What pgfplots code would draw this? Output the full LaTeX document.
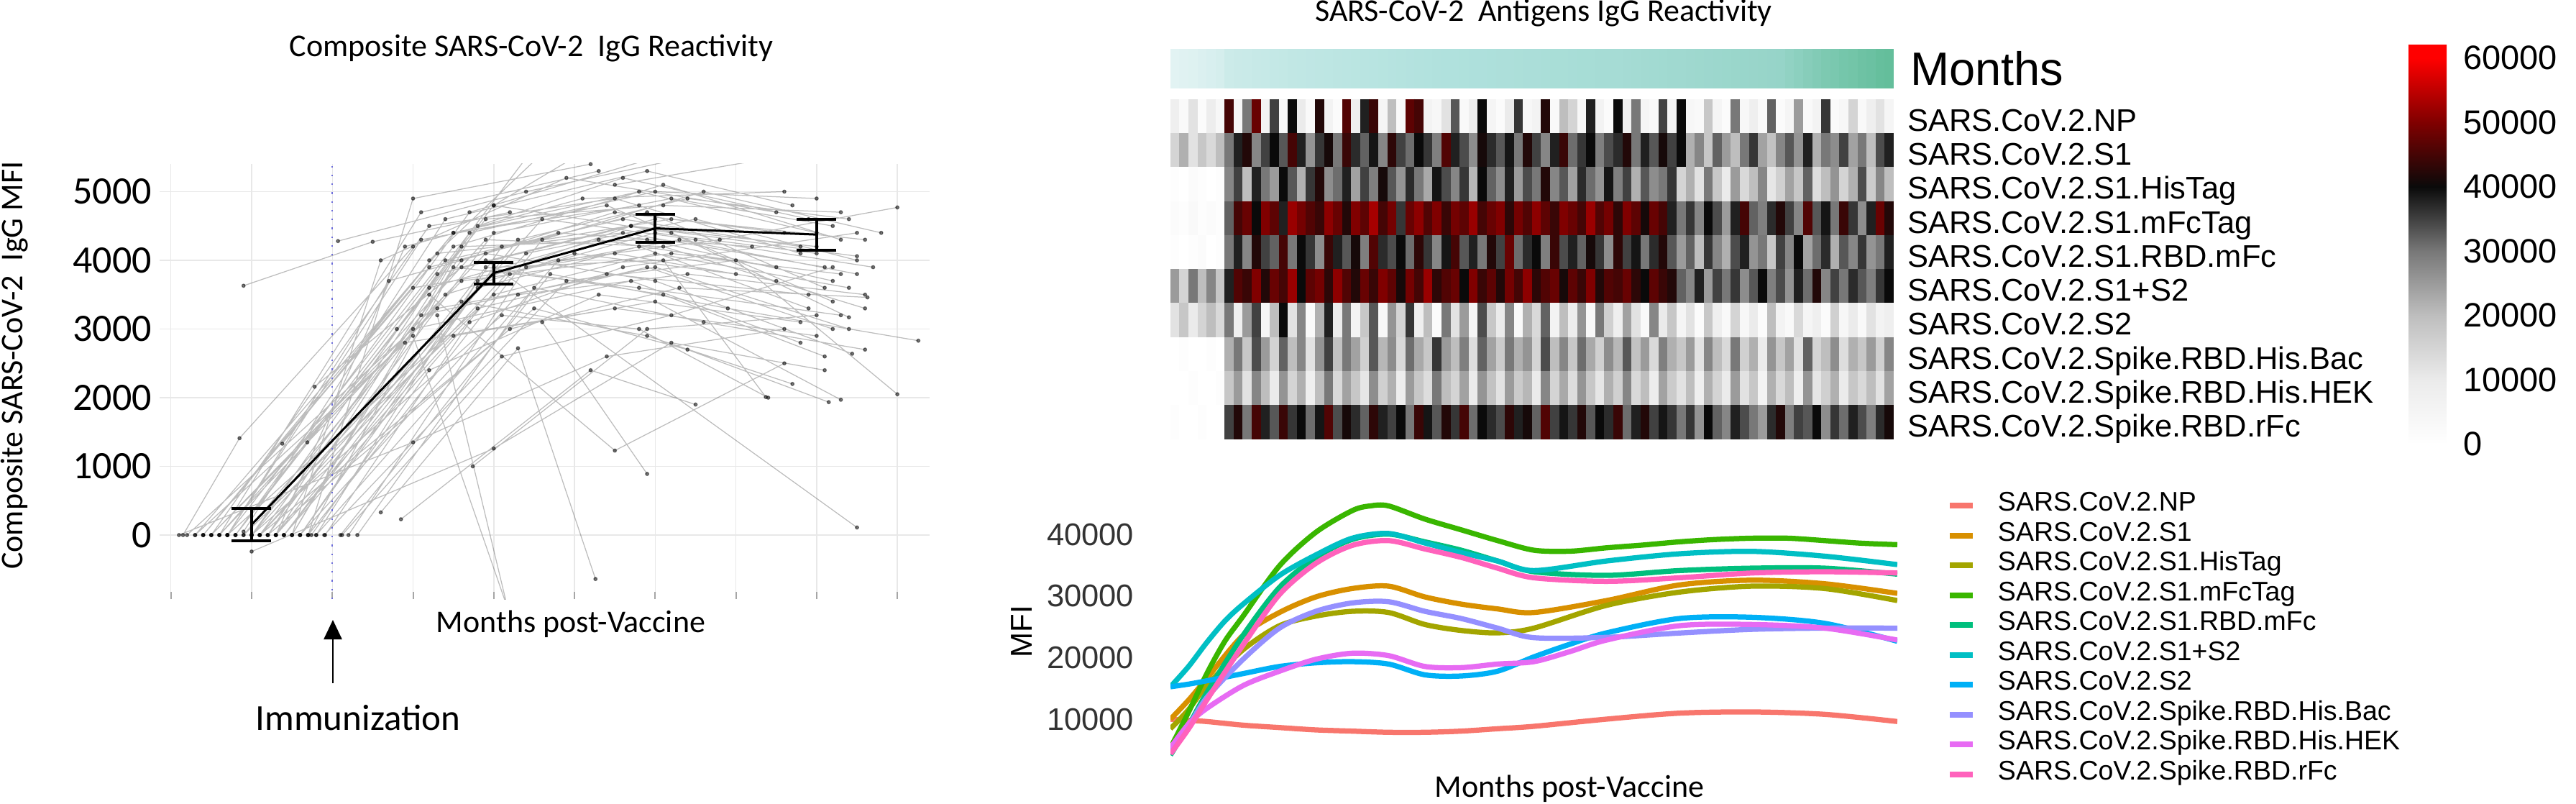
\documentclass[border=0pt]{standalone}
\usepackage{fontspec}
\setmainfont{Carlito}
\newfontfamily\arialf{Liberation Sans}
\usepackage{pgfplots}
\usepackage{pgfplotstable}
\pgfplotsset{compat=1.18}
\usetikzlibrary{arrows.meta}

\definecolor{cNP}{HTML}{F8766D}
\definecolor{cS1}{HTML}{D89000}
\definecolor{cHis}{HTML}{A3A500}
\definecolor{cmFc}{HTML}{39B600}
\definecolor{cRBD}{HTML}{00BF7D}
\definecolor{cS12}{HTML}{00BFC4}
\definecolor{cS2}{HTML}{00B0F6}
\definecolor{cBac}{HTML}{9590FF}
\definecolor{cHEK}{HTML}{E76BF3}
\definecolor{crFc}{HTML}{FF62BC}
\definecolor{blueDot}{RGB}{110,110,220}

\pgfplotsset{colormap={mon}{rgb255(0cm)=(226,243,243) rgb255(5cm)=(176,225,221) rgb255(8cm)=(150,212,200) rgb255(10cm)=(100,190,155)}}
% positions = value (thousands) + 0.7, so that the map spans -0.7 .. 62.2
\pgfplotsset{colormap={hm}{rgb255(0cm)=(255,255,255) rgb255(0.7cm)=(255,255,255) rgb255(10.7cm)=(235,235,235) rgb255(20.7cm)=(190,190,190) rgb255(30.7cm)=(120,120,120) rgb255(40.7cm)=(10,10,10) rgb255(50.7cm)=(128,0,0) rgb255(60.7cm)=(255,0,0) rgb255(62.9cm)=(255,0,0)}}

% heatmap data (values in thousands of MFI), one row per sample
\pgfplotstableread{
mon NP S1 His mFc RBD S12 S2 Bac HEK rFc
0.00 8 15 1 2 1 25 12 0 0 1
0.02 3 22 0 1 0 15 18 1 0 0
0.04 12 12 2 3 1 30 10 0 1 0
0.07 2 18 1 1 2 20 15 0 0 1
0.10 9 14 0 2 0 28 20 1 0 0
0.13 4 20 1 1 1 18 14 0 1 0
0.22 45 30 28 32 30 38 30 22 18 35
0.24 5 38 35 45 38 46 8 30 25 42
0.25 30 42 20 48 28 44 25 18 12 30
0.27 48 28 38 40 42 50 35 34 28 45
0.28 6 35 30 50 35 42 5 25 20 38
0.30 35 40 25 47 32 48 20 15 10 33
0.31 4 33 40 38 45 45 40 32 26 44
0.33 40 45 33 52 30 52 12 20 15 36
0.34 10 38 22 49 40 40 28 28 22 40
0.35 3 26 36 46 36 47 3 12 8 31
0.36 42 36 42 44 27 49 22 26 20 39
0.37 6 41 27 51 44 43 38 35 30 46
0.38 2 30 31 48 38 51 10 19 14 34
0.39 46 44 38 42 33 46 30 30 24 41
0.40 8 37 24 50 41 42 6 24 18 37
0.41 38 32 35 47 29 48 18 16 11 32
0.42 44 39 29 53 46 44 33 33 27 43
0.43 5 28 41 45 37 50 4 21 16 38
0.44 20 43 33 49 34 47 26 27 22 35
0.45 3 35 26 36 40 41 15 14 9 40
0.46 47 31 37 48 31 49 36 31 25 30
0.47 45 40 30 51 43 45 8 23 18 44
0.48 6 36 23 46 36 52 20 18 13 39
0.49 4 29 39 50 28 43 2 36 30 33
0.50 12 46 34 44 39 46 30 25 20 42
0.50 33 38 28 49 45 48 12 20 15 36
0.51 3 34 36 47 33 40 25 29 24 45
0.52 8 27 21 52 38 50 5 13 10 31
0.52 40 41 40 45 30 44 34 32 26 40
0.53 5 37 32 48 42 47 18 24 19 37
0.54 2 33 27 50 35 42 10 17 12 34
0.54 10 39 38 43 48 49 28 30 25 43
0.55 36 30 25 49 31 45 3 22 17 38
0.56 4 42 34 46 37 51 22 26 21 41
0.56 6 35 30 51 40 43 14 15 10 32
0.57 42 28 42 47 29 46 32 34 28 46
0.58 3 38 28 44 44 48 6 20 15 35
0.58 20 44 33 50 34 41 20 28 23 39
0.59 15 31 24 48 38 47 9 18 13 36
0.60 4 36 37 45 32 44 26 31 26 42
0.60 38 40 31 52 41 50 4 23 18 33
0.61 6 29 26 46 36 42 30 16 11 40
0.62 2 34 39 49 27 46 16 27 22 37
0.62 40 37 29 43 43 45 8 21 16 44
0.63 8 42 35 50 35 48 24 33 28 31
0.64 30 30 22 47 39 43 12 19 14 38
0.65 5 38 33 41 30 40 3 25 20 42
0.66 3 33 27 48 37 47 28 14 9 35
0.67 35 41 30 45 42 44 10 29 24 39
0.68 6 35 36 38 33 42 18 22 17 36
0.69 40 40 15 30 25 32 5 18 12 30
0.70 4 22 22 36 32 28 12 25 20 36
0.71 3 28 12 28 20 38 2 12 8 26
0.72 18 18 30 40 36 25 18 28 22 40
0.73 5 32 18 34 28 35 8 20 15 32
0.74 2 25 10 25 22 30 3 14 10 28
0.75 30 20 25 38 34 36 15 30 25 38
0.76 4 30 14 45 38 27 4 16 12 34
0.77 8 36 20 32 26 33 10 22 18 30
0.78 3 24 28 29 30 40 2 10 6 25
0.79 32 19 11 37 18 29 20 26 22 37
0.80 2 28 16 42 35 34 6 18 14 42
0.82 5 33 24 35 28 26 3 24 20 29
0.84 25 26 18 28 40 38 14 12 8 35
0.86 3 38 32 46 24 31 5 32 26 33
0.88 6 22 13 33 31 42 8 15 11 40
0.90 36 30 20 39 37 28 2 20 16 27
0.91 2 27 26 30 22 35 16 27 22 36
0.93 4 35 15 44 33 30 4 13 10 31
0.94 15 24 22 36 28 37 10 22 18 38
0.96 3 30 34 27 36 33 3 18 14 34
0.97 8 20 17 38 26 29 12 25 20 29
0.99 12 34 28 48 30 36 6 16 12 37
1.00 5 38 20 42 38 40 8 28 24 41
}\hm

% individual subject trajectories (months, composite MFI); nan separates subjects
\pgfplotstableread{
x y
-1.6 0
1.2 3900
3.9 4700
6.1 3600
nan nan
-1.3 0
1.5 4200
4.1 5100
6.3 4300
nan nan
-1.0 0
1.8 3600
3.8 4200
5.9 3300
nan nan
-0.8 0
2.0 4400
4.2 4900
6.2 4500
nan nan
-1.5 0
1.3 3300
4.0 3900
6.4 3000
nan nan
-1.2 0
1.7 4700
4.3 5600
nan nan
-0.6 0
2.2 3800
4.0 4400
6.0 4100
nan nan
-1.8 0
1.0 3000
3.7 3700
5.8 2800
nan nan
-0.9 0
2.4 4100
4.5 4600
6.5 4000
nan nan
-0.4 0
2.3 3500
4.4 3800
6.6 3500
nan nan
-1.1 50
1.4 4600
3.9 5300
5.7 4800
nan nan
-0.7 0
1.9 3900
4.1 3500
6.1 2600
nan nan
-1.4 0
1.6 3700
4.2 4100
6.3 3800
nan nan
-0.3 0
2.6 4300
4.6 5000
6.8 4400
nan nan
-1.0 0
2.1 3200
3.8 3000
5.4 2000
nan nan
-0.5 0
1.8 4500
3.6 5200
5.9 4600
nan nan
-1.7 0
0.9 2800
3.5 3300
6.0 2900
nan nan
-0.2 0
2.8 4000
4.8 4300
7.0 4770
nan nan
-1.3 0
1.1 4300
3.4 4800
6.2 3400
nan nan
-0.8 0
2.5 3300
4.4 2700
6.15 1935
nan nan
-0.1 0
2.9 3700
5.0 4000
7.0 2050
nan nan
-1.2 0
2.0 4800
4.2 4400
6.4 3170
nan nan
-0.6 0
1.6 3400
3.9 2900
5.7 2200
nan nan
-1.5 0
1.9 4100
4.0 3700
6.44 2640
nan nan
-0.9 0
2.2 3000
4.3 3600
6.63 3460
nan nan
0.1 0
2.7 3800
4.9 3300
7.26 2830
nan nan
-1.0 0
1.3 3800
3.7 4500
6.5 4060
nan nan
-0.4 0
2.0 3900
4.1 4000
5.37 2010
nan nan
-0.7 0
1.5 2900
4.0 3400
6.3 1970
nan nan
-1.6 0
1.0 3600
3.5 4100
5.5 3700
nan nan
-1.1 3630
0.5 4270
2.2 4700
nan nan
-1.85 0
-1.15 1410
1.0 4200
nan nan
-0.22 2160
1.6 3900
4.0 4600
nan nan
0.07 4280
2.4 5000
4.4 5500
nan nan
0.6 330
2.3 2720
3.26 -640
nan nan
0.85 230
3.2 2400
4.5 1900
nan nan
1.74 1000
3.9 3000
6.0 3200
nan nan
-1.0 -240
2.0 1260
4.2 2800
6.1 2400
nan nan
1.2 3500
3.5 1230
5.6 2500
nan nan
2.6 3100
3.9 890
nan nan
1.9 4000
6.5 110
nan nan
1.0 2900
2.3 -1500
nan nan
1.3 3200
2.2 -1200
nan nan
0.8 3000
2.6 5800
nan nan
1.2 4000
3.0 6000
nan nan
2.0 4800
4.0 6200
nan nan
3.5 5100
6.0 5600
nan nan
-0.62 1330
1.5 4400
3.8 5000
6.0 4400
nan nan
-0.31 1350
1.9 4600
4.1 4800
6.3 4700
nan nan
-1.9 0
1.0 1350
3.4 2600
5.6 3000
nan nan
0.31 0
2.5 3600
4.6 3100
6.6 2700
nan nan
0.12 0
2.1 2600
4.2 3200
6.2 3900
nan nan
-0.09 0
1.7 3100
3.6 3900
6.5 4400
nan nan
-0.26 0
1.2 2400
3.3 3500
5.8 3100
nan nan
-1.3 0
0.7 3700
2.8 4400
5.2 4200
nan nan
-0.5 0
0.6 4000
2.9 5200
5.5 4700
nan nan
-0.7 0
0.9 4200
3.1 4900
5.6 5000
nan nan
-1.4 0
1.1 4700
3.3 5300
nan nan
-1.1 0
1.4 3500
3.0 4100
5.0 3800
nan nan
-0.3 0
1.0 4900
3.2 5400
nan nan
-1.2 0
1.4 4000
3.6 4600
5.8 4200
nan nan
-0.8 0
1.2 3600
3.3 4300
5.5 3900
nan nan
-1.6 0
1.5 4400
3.8 4800
nan nan
-0.5 0
1.6 4200
3.9 4300
6.2 3700
nan nan
-1.0 0
1.1 3200
3.4 3800
5.9 3500
nan nan
-0.2 0
1.8 3700
3.7 4500
6.0 4200
nan nan
-1.4 0
1.9 4300
4.1 4200
6.6 3300
nan nan
-0.9 0
1.6 4000
3.5 4700
5.6 4400
nan nan
-0.6 0
2.3 4300
4.4 4900
6.4 4600
nan nan
-1.7 0
1.3 4100
3.6 4400
6.1 3900
nan nan
-0.3 0
1.5 3900
3.8 3600
6.3 3200
nan nan
-1.1 0
2.0 3500
4.0 4100
6.4 3600
nan nan
-0.7 0
1.7 4400
4.0 5000
6.0 4900
nan nan
0.2 0
2.4 3900
4.3 4300
6.5 3800
nan nan
-1.5 0
1.2 4500
3.5 4900
5.8 4100
nan nan
-0.4 0
2.1 4200
4.2 4600
6.6 4300
nan nan
-1.3 0
1.8 3300
3.9 3900
6.2 3000
nan nan
-0.9 0
2.6 4600
4.5 4300
6.7 3900
}\subj

\pgfplotsset{hmrow/.style={scatter, only marks, mark=|, mark size=4.8pt,
  point meta=explicit, scatter/use mapped color={draw=mapped color, fill=mapped color},
  mark options={line width=2.6pt}}}

\begin{document}
\begin{tikzpicture}
\path[use as bounding box] (0pt,0pt) rectangle (716.6pt,223.4pt);

% ---------------- left panel ----------------
\begin{axis}[
  at={(44.4pt,56.8pt)}, anchor=south west,
  scale only axis, width=214.2pt, height=121pt,
  xmin=-2.14, xmax=7.4, ymin=-932, ymax=5403,
  axis line style={draw=none},
  xtick={-2,...,7}, xticklabels={},
  ytick={0,1000,...,5000},
  grid=major, grid style={color=black!9, line width=0.3pt},
  xtick style={color=black!35, line width=0.4pt},
  ytick style={draw=none},
  major tick length=2pt,
  tick pos=left,
  /pgf/number format/assume math mode=true,
  /pgf/number format/1000 sep={},
  scaled ticks=false,
  yticklabel style={font=\fontsize{10.8}{12}\selectfont, inner sep=0pt, xshift=-2pt},
  title={Composite SARS-CoV-2\ \ IgG Reactivity},
  title style={at={(0.4827,1.2165)}, anchor=center, font=\fontsize{8.8}{10}\selectfont},
  xlabel={Months post-Vaccine},
  xlabel style={at={(0.534,-0.0579)}, anchor=center, font=\fontsize{8.8}{10}\selectfont},
  ylabel={Composite SARS-CoV-2\ \ IgG MFI},
  ylabel style={at={(-0.1886,0.537)}, anchor=center, font=\fontsize{8.8}{10}\selectfont},
  unbounded coords=jump,
]
\addplot[black, opacity=0.26, line width=0.25pt, mark=*, mark size=0.45pt,
  mark options={draw=none, fill=black, opacity=0.5}] table {\subj};
\addplot[blueDot, dotted, line width=0.45pt] coordinates {(0,-932) (0,5403)};
\addplot[black, line width=0.6pt, mark=none,
  error bars/.cd, y dir=both, y explicit,
  error bar style={line width=0.8pt, black},
  error mark options={rotate=90, mark size=5.5pt, line width=0.8pt, black}]
  coordinates {(-1,152) +- (0,236) (2,3815) +- (0,158) (4,4466) +- (0,204) (6,4375) +- (0,224)};
\end{axis}
\draw[line width=0.5pt, -{Triangle[width=5pt,length=5.4pt]}] (92.6pt,33.4pt) -- (92.6pt,51pt);
\node[font=\fontsize{10.2}{12}\selectfont] at (99.6pt,23.8pt) {Immunization};

% ---------------- heatmap title / months bar ----------------
\node[font=\fontsize{8.8}{10}\selectfont] at (429.4pt,219.8pt) {SARS-CoV-2\ \ Antigens IgG Reactivity};

\begin{axis}[at={(325.6pt,198.8pt)}, anchor=south west, scale only axis,
  width=201.2pt, height=11pt, xmin=0.5, xmax=80.5, ymin=0, ymax=1,
  axis line style={draw=none}, ticks=none,
  colormap name=mon, point meta min=0, point meta max=1]
\addplot[scatter, only marks, mark=|, mark size=5.5pt, point meta=explicit,
  scatter/use mapped color={draw=mapped color, fill=mapped color},
  mark options={line width=2.6pt}]
  table[x expr=\coordindex+1, y expr=0.5, meta=mon] {\hm};
\end{axis}
\node[font=\arialf\fontsize{13}{15}\selectfont, anchor=west, inner sep=0pt] at (531.2pt,204.4pt) {Months};

% ---------------- heatmap ----------------
\begin{axis}[at={(325.6pt,101.2pt)}, anchor=south west, scale only axis,
  width=201.2pt, height=94.6pt,
  xmin=0.5, xmax=80.5, ymin=0.5, ymax=10.5, y dir=reverse,
  axis line style={draw=none}, xtick=\empty,
  ytick={1,...,10},
  yticklabels={SARS.CoV.2.NP, SARS.CoV.2.S1, SARS.CoV.2.S1.HisTag, SARS.CoV.2.S1.mFcTag,
    SARS.CoV.2.S1.RBD.mFc, SARS.CoV.2.S1+S2, SARS.CoV.2.S2, SARS.CoV.2.Spike.RBD.His.Bac,
    SARS.CoV.2.Spike.RBD.His.HEK, SARS.CoV.2.Spike.RBD.rFc},
  yticklabel pos=right, ytick style={draw=none},
  yticklabel style={font=\arialf\fontsize{8.7}{10}\selectfont, anchor=base west,
    inner sep=0pt, xshift=3.6pt, yshift=-4.1pt},
  colormap name=hm, point meta min=-0.7, point meta max=62.2,
  colorbar,
  colorbar style={
    at={(parent axis.south west)}, anchor=north west,
    xshift=335.9pt, yshift=110pt,
    width=10.6pt, height=112.6pt,
    ytick={0,10,...,60}, yticklabels={0,10000,20000,30000,40000,50000,60000},
    yticklabel style={font=\arialf\fontsize{9.4}{10}\selectfont, inner sep=0pt, xshift=4.4pt},
    major tick length=0pt, axis line style={draw=none}, ytick style={draw=none}},
]
\addplot[hmrow] table[x expr=\coordindex+1, y expr=1, meta=NP] {\hm};
\addplot[hmrow] table[x expr=\coordindex+1, y expr=2, meta=S1] {\hm};
\addplot[hmrow] table[x expr=\coordindex+1, y expr=3, meta=His] {\hm};
\addplot[hmrow] table[x expr=\coordindex+1, y expr=4, meta=mFc] {\hm};
\addplot[hmrow] table[x expr=\coordindex+1, y expr=5, meta=RBD] {\hm};
\addplot[hmrow] table[x expr=\coordindex+1, y expr=6, meta=S12] {\hm};
\addplot[hmrow] table[x expr=\coordindex+1, y expr=7, meta=S2] {\hm};
\addplot[hmrow] table[x expr=\coordindex+1, y expr=8, meta=Bac] {\hm};
\addplot[hmrow] table[x expr=\coordindex+1, y expr=9, meta=HEK] {\hm};
\addplot[hmrow] table[x expr=\coordindex+1, y expr=10, meta=rFc] {\hm};
\end{axis}

% ---------------- smoothed curves ----------------
\begin{axis}[at={(325.6pt,9.7pt)}, anchor=south west, scale only axis,
  width=202.2pt, height=75.3pt,
  xmin=0, xmax=10, ymin=2000, ymax=46000,
  axis line style={draw=none}, xtick=\empty,
  ytick={10000,20000,30000,40000}, ytick style={draw=none},
  scaled ticks=false, /pgf/number format/1000 sep={},
  /pgf/number format/assume math mode=true,
  yticklabel style={font=\arialf\fontsize{8.7}{10}\selectfont, inner sep=0pt, xshift=-10pt, color=black!80},
  xlabel={Months post-Vaccine},
  xlabel style={at={(0.549,-0.0757)}, anchor=center, font=\fontsize{8.8}{10}\selectfont},
  ylabel={MFI},
  ylabel style={at={(-0.2047,0.506)}, anchor=center, font=\arialf\fontsize{8.4}{10}\selectfont},
  legend style={at={(1.0682,1.025)}, anchor=north west, draw=none, fill=none,
    inner sep=0pt, outer sep=0pt, font=\arialf\fontsize{7.5}{8}\selectfont,
    nodes={inner sep=0pt, text height=5.6pt, text depth=2.7pt}, row sep=0pt},
  legend cell align=left,
  legend image code/.code={\draw[line width=1.6pt] (0pt,0pt) -- (6.4pt,0pt); \path[draw=none, fill=none] (0pt,0pt) -- (13.4pt,0pt);},
  every axis plot/.append style={line width=1.45pt, smooth, mark=none},
]
\addplot[cNP] coordinates {(0,10000) (0.25,9800) (0.5,9620) (1,9030) (1.5,8640) (2,8260) (2.5,8060) (3,7870) (3.5,7870) (4,8060) (4.5,8450) (5,8840) (6,10010) (7,10980) (8,11180) (9,10790) (10,9620)};
\addlegendentry{SARS.CoV.2.NP}
\addplot[cS1] coordinates {(0,10000) (0.25,13120) (0.5,16630) (1,23640) (1.5,27340) (2,29870) (2.5,31230) (3,31620) (3.5,29870) (4,28700) (4.5,27920) (5,27340) (6,29280) (7,31810) (8,32590) (9,32010) (10,30450)};
\addlegendentry{SARS.CoV.2.S1}
\addplot[cHis] coordinates {(0,8450) (0.25,11570) (0.5,15460) (1,21300) (1.5,25190) (2,26750) (2.5,27530) (3,27340) (3.5,25390) (4,24420) (4.5,24030) (5,24800) (6,28500) (7,30650) (8,31620) (9,31230) (10,29280)};
\addlegendentry{SARS.CoV.2.S1.HisTag}
\addplot[cmFc] coordinates {(0,5330) (0.25,11180) (0.5,17400) (0.75,22700) (1,26760) (1.5,34930) (2,40370) (2.5,43890) (2.75,44660) (3,44660) (3.5,42520) (4,40770) (4.5,39020) (5,37460) (5.5,37300) (6,37850) (6.5,38300) (7,38820) (7.5,39200) (8,39410) (8.5,39410) (9,39020) (9.5,38600) (10,38360)};
\addlegendentry{SARS.CoV.2.S1.mFcTag}
\addplot[cRBD] coordinates {(0,4170) (0.25,9000) (0.5,14290) (1,23640) (1.5,31420) (2,36290) (2.5,39210) (3,40070) (3.5,38820) (4,37460) (4.5,35710) (5,33960) (6,33370) (7,34150) (8,34540) (9,34540) (10,33570)};
\addlegendentry{SARS.CoV.2.S1.RBD.mFc}
\addplot[cS12] coordinates {(0,15270) (0.25,18580) (0.5,22470) (0.75,25970) (1,28700) (1.5,33370) (2,36690) (2.5,39410) (3,40180) (3.5,38630) (4,37070) (4.5,35710) (5,34150) (6,35710) (7,36880) (8,37270) (9,36490) (10,35120)};
\addlegendentry{SARS.CoV.2.S1+S2}
\addplot[cS2] coordinates {(0,15270) (0.25,15700) (0.5,16240) (1,17410) (1.5,18570) (2,19160) (2.5,19350) (3,18960) (3.5,17210) (4,17020) (4.5,17800) (5,20130) (5.5,22200) (6,24030) (7,26360) (8,26560) (9,25580) (10,22660)};
\addlegendentry{SARS.CoV.2.S2}
\addplot[cBac] coordinates {(0,4560) (0.25,8840) (0.5,13510) (1,19740) (1.5,24800) (2,27530) (2.5,28890) (3,29090) (3.5,27530) (4,26360) (4.5,24800) (5,23250) (6,23300) (7,24000) (8,24600) (9,24800) (10,24800)};
\addlegendentry{SARS.CoV.2.Spike.RBD.His.Bac}
\addplot[cHEK] coordinates {(0,5330) (0.25,9230) (0.5,11760) (1,15460) (1.5,17800) (2,19740) (2.5,20720) (3,20330) (3.5,18570) (4,18380) (4.5,18960) (5,19350) (5.5,21000) (6,22860) (7,25190) (8,25390) (9,24800) (10,22860)};
\addlegendentry{SARS.CoV.2.Spike.RBD.His.HEK}
\addplot[crFc] coordinates {(0,4360) (0.25,8450) (0.5,13120) (1,22080) (1.5,30260) (2,35320) (2.5,38240) (3,39020) (3.5,37660) (4,36290) (4.5,34540) (5,32980) (6,32400) (7,32980) (8,33760) (9,33960) (10,33760)};
\addlegendentry{SARS.CoV.2.Spike.RBD.rFc}
\end{axis}
\end{tikzpicture}
\end{document}
